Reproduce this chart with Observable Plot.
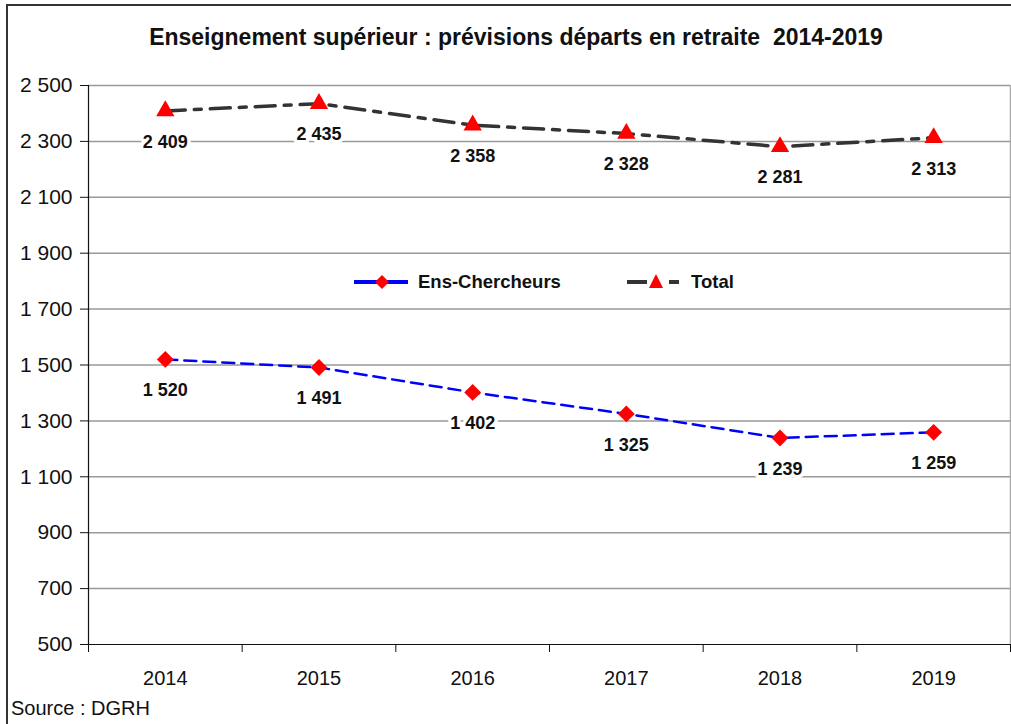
<!DOCTYPE html>
<html><head><meta charset="utf-8">
<script src="https://cdn.jsdelivr.net/npm/d3@7"></script>
<script src="https://cdn.jsdelivr.net/npm/@observablehq/plot@0.6"></script>
<style>
html,body{margin:0;padding:0;background:#fff;}
body{font-family:"Liberation Sans",Arial,sans-serif;width:1011px;height:724px;overflow:hidden;position:relative;}
#frame{position:absolute;left:6px;top:4px;width:1020px;height:740px;border:2px solid #333;box-sizing:border-box;}
#title{position:absolute;left:0;width:1032px;top:24px;text-align:center;font-weight:bold;font-size:23px;color:#111;white-space:pre;}
#source{position:absolute;left:11px;top:697px;font-size:20px;color:#111;}
#chart{position:absolute;left:0;top:0;}
#legend{position:absolute;top:270px;left:0;font-weight:bold;font-size:18.5px;color:#111;}
.item{position:absolute;white-space:nowrap;}
</style>
</head><body>
<div id="frame"></div>
<div id="chart"></div>
<div id="title"></div>
<div id="legend"></div>
<div id="source"></div>
<script>
const titleText = "Enseignement supérieur : prévisions départs en retraite  2014-2019";
const sourceText = "Source : DGRH";
const years = [2014, 2015, 2016, 2017, 2018, 2019];
const ensChercheurs = [1520, 1491, 1402, 1325, 1239, 1259];
const total = [2409, 2435, 2358, 2328, 2281, 2313];
const seriesNames = ["Ens-Chercheurs", "Total"];
const yTicks = [500, 700, 900, 1100, 1300, 1500, 1700, 1900, 2100, 2300, 2500];

document.getElementById("title").textContent = titleText;
document.getElementById("source").textContent = sourceText;

const fmt = d => d3.format(",")(d).replace(/,/g, " ");
const ensData = years.map((y, i) => ({year: y, value: ensChercheurs[i]}));
const totData = years.map((y, i) => ({year: y, value: total[i]}));
const bounds = years.map(y => y - 0.5).concat([years[years.length - 1] + 0.5]);

const font = '"Liberation Sans", Arial, sans-serif';
const chart = Plot.plot({
  width: 1011,
  height: 724,
  marginTop: 85,
  marginBottom: 80,
  marginLeft: 88,
  marginRight: 1,
  style: {fontFamily: font, background: "transparent", overflow: "visible"},
  x: {type: "linear", domain: [bounds[0], bounds[bounds.length - 1]], label: null},
  y: {domain: [500, 2500], label: null},
  marks: [
    Plot.ruleY(yTicks.slice(1), {stroke: "#999", strokeWidth: 1.5, strokeOpacity: 1}),
    Plot.ruleX([bounds[bounds.length - 1]], {stroke: "#aaa", strokeWidth: 1.5}),
    Plot.axisY({ticks: yTicks, tickFormat: fmt, tickSize: 8, tickPadding: 8, fontSize: 21, stroke: "#111", fill: "#111", label: null}),
    Plot.axisX({ticks: bounds, tickFormat: () => "", tickSize: 8, stroke: "#111", label: null}),
    Plot.axisX({ticks: years, tickFormat: d => String(d), tickSize: 0, tickPadding: 26, fontSize: 20, fill: "#111", label: null}),
    Plot.ruleX([bounds[0]], {stroke: "#111", strokeWidth: 1.2}),
    Plot.ruleY([500], {stroke: "#111", strokeWidth: 1.2}),
    Plot.line(ensData, {x: "year", y: "value", stroke: "#0000ff", strokeWidth: 2.5, strokeDasharray: "12,7"}),
    Plot.line(totData, {x: "year", y: "value", stroke: "#333", strokeWidth: 3.5, strokeDasharray: "20,9,7,9"}),
    Plot.dot(ensData, {x: "year", y: "value", symbol: "diamond2", r: 7.6, fill: "red", stroke: "none"}),
    Plot.dot(totData, {x: "year", y: "value", symbol: "triangle", r: 6.8, fill: "red", stroke: "none"}),
    Plot.text(ensData, {x: "year", y: "value", text: d => fmt(d.value), dy: 31, fontSize: 18, fontWeight: "bold", fill: "#111", stroke: "white", strokeWidth: 7}),
    Plot.text(totData, {x: "year", y: "value", text: d => fmt(d.value), dy: 31, fontSize: 18, fontWeight: "bold", fill: "#111", stroke: "white", strokeWidth: 7})
  ]
});
document.getElementById("chart").appendChild(chart);

// Legend
const legend = document.getElementById("legend");
legend.innerHTML =
  `<div class="item" style="left:352px;top:0"><svg width="58" height="24" style="vertical-align:middle"><line x1="2" x2="56" y1="12" y2="12" stroke="#0000ff" stroke-width="4"/><path d="M30,5 L37,12 L30,19 L23,12 Z" fill="red"/></svg><span style="margin-left:8px;vertical-align:middle">${seriesNames[0]}</span></div>` +
  `<div class="item" style="left:625px;top:0"><svg width="62" height="24" style="vertical-align:middle"><line x1="2" x2="22" y1="12" y2="12" stroke="#333" stroke-width="4"/><line x1="44" x2="54" y1="12" y2="12" stroke="#333" stroke-width="4"/><path d="M31,4 L38,18 L24,18 Z" fill="red"/></svg><span style="margin-left:4px;vertical-align:middle">${seriesNames[1]}</span></div>`;
</script>
</body></html>
